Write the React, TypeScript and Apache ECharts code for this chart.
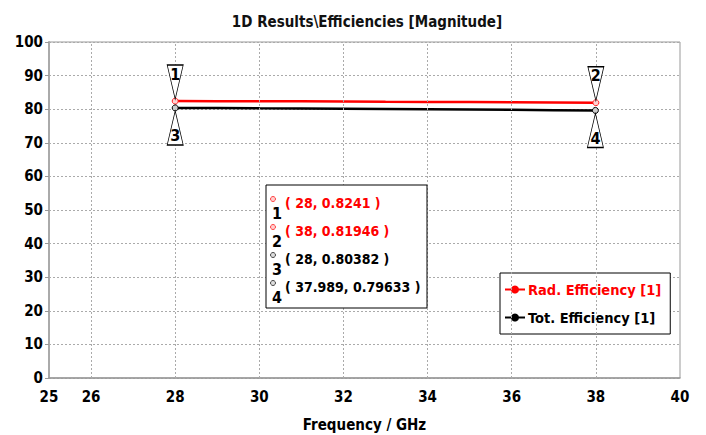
import React, { useEffect, useRef } from 'react';
import * as echarts from 'echarts';

const freqGHz = [28, 29, 30, 31, 32, 33, 34, 35, 36, 37, 38];
const radEff = [82.41, 82.39, 82.37, 82.34, 82.31, 82.22, 82.17, 82.12, 82.07, 82.01, 81.946];
const totEff = [80.382, 80.33, 80.26, 80.2, 80.13, 80.06, 79.98, 79.9, 79.82, 79.72, 79.633];

const xLabelValues = [25, 26, 28, 30, 32, 34, 36, 38, 40];
const xGridValues = [26, 28, 30, 32, 34, 36, 38];

const markerIds = ['1', '2', '3', '4'];
const markerFreq = [28, 38, 28, 37.989];
const markerEff = [0.8241, 0.81946, 0.80382, 0.79633];

const seriesNames = ['Rad. Efficiency [1]', 'Tot. Efficiency [1]'];
const seriesColors = ['#ff0000', '#000000'];

const FONT = "'DejaVu Sans Condensed', 'DejaVu Sans', sans-serif";
const TRI_DOWN = 'path://M0,0L16,0L8,34Z';
const TRI_UP = 'path://M8,0L16,34L0,34Z';

function calloutPoint(i: number, down: boolean) {
  return {
    coord: [markerFreq[i], markerEff[i] * 100],
    symbol: down ? TRI_DOWN : TRI_UP,
    symbolSize: [16, 34],
    symbolOffset: [0, down ? -19 : 20],
    itemStyle: { color: '#ffffff', borderColor: '#000000', borderWidth: 1 },
    label: {
      show: true,
      formatter: markerIds[i],
      position: 'inside',
      offset: [0, down ? -8 : 8],
      color: '#000',
      fontSize: 16,
      fontWeight: 'bold',
      fontFamily: FONT,
    },
  };
}

function dotPoint(i: number, color: string, fill: string) {
  return {
    coord: [markerFreq[i], markerEff[i] * 100],
    symbol: 'circle',
    symbolSize: 6,
    itemStyle: { color: fill, borderColor: color, borderWidth: 1 },
    label: { show: false },
  };
}

export default function App() {
  const ref = useRef<HTMLDivElement>(null);
  useEffect(() => {
    document.body.style.margin = '0';
    const chart = echarts.init(ref.current!, undefined, { renderer: 'svg' });
    const rows = markerIds.map((id, i) => ({
      id,
      text: `( ${markerFreq[i]}, ${markerEff[i]} )`,
      color: i < 2 ? seriesColors[0] : seriesColors[1],
    }));
    const boxGraphics: any[] = [
      {
        type: 'rect',
        shape: { x: 266, y: 185, width: 161, height: 123 },
        style: { fill: '#fff', stroke: '#000', lineWidth: 1 },
        z: 100,
      },
    ];
    rows.forEach((r, i) => {
      const cy = 203 + 28 * i;
      boxGraphics.push(
        {
          type: 'circle',
          shape: { cx: 273, cy: cy - 4, r: 2.5 },
          style: { fill: i < 2 ? '#ffd0d0' : '#ddd', stroke: i < 2 ? '#ff4040' : '#444', lineWidth: 1 },
          z: 101,
        },
        {
          type: 'text',
          x: 277,
          y: cy + 10,
          style: { text: r.id, fill: '#000', fontSize: 16, fontWeight: 'bold', fontFamily: FONT, align: 'center', verticalAlign: 'middle' },
          z: 101,
        },
        {
          type: 'text',
          x: 285,
          y: cy,
          style: { text: r.text, fill: r.color, fontSize: 14, fontWeight: 'bold', fontFamily: FONT, align: 'left', verticalAlign: 'middle' },
          z: 101,
        }
      );
    });

    chart.setOption({
      animation: false,
      backgroundColor: '#ffffff',
      title: {
        text: '1D Results\\Efficiencies [Magnitude]',
        left: 362,
        textAlign: 'center',
        top: 9,
        textStyle: { fontSize: 15, fontWeight: 'bold', fontFamily: FONT, color: '#111' },
      },
      grid: {
        left: 49,
        right: 26,
        top: 42,
        bottom: 57,
        show: true,
        borderColor: '#999',
        borderWidth: 1,
        outerBoundsMode: 'none',
        containLabel: false,
      },
      xAxis: {
        type: 'value',
        min: 25,
        max: 40,
        interval: 1,
        name: 'Frequency / GHz',
        nameLocation: 'middle',
        nameGap: 39,
        nameTextStyle: { fontSize: 15, fontWeight: 'bold', fontFamily: FONT, color: '#000' },
        axisLine: { lineStyle: { color: '#999', width: 1.5 } },
        axisTick: { show: false },
        splitLine: { show: false },
        axisLabel: {
          formatter: (v: number) => (xLabelValues.includes(v) ? String(v) : ''),
          fontSize: 15,
          fontWeight: 'bold',
          fontFamily: FONT,
          color: '#000',
          margin: 11,
        },
      },
      yAxis: {
        type: 'value',
        min: 0,
        max: 100,
        interval: 10,
        axisLine: { show: true, lineStyle: { color: '#aaa', width: 2 } },
        axisTick: { show: true, length: 4, lineStyle: { color: '#999' } },
        splitLine: { show: true, lineStyle: { type: [2, 2], color: '#aaa', width: 1 } },
        axisLabel: { fontSize: 15, fontWeight: 'bold', fontFamily: FONT, color: '#000', margin: 6 },
      },
      legend: {
        data: seriesNames.map((n, i) => ({ name: n, textStyle: { color: seriesColors[i] } })),
        orient: 'vertical',
        left: 500,
        top: 273,
        backgroundColor: '#fff',
        borderColor: '#000',
        borderWidth: 1,
        padding: [9, 9, 9, 4],
        itemGap: 13,
        itemWidth: 20,
        itemHeight: 10,
        textStyle: { fontSize: 14.5, fontWeight: 'bold', fontFamily: FONT, padding: [0, 0, 0, -2] },
      },
      graphic: boxGraphics,
      series: [
        {
          name: 'grid',
          type: 'line',
          data: [],
          silent: true,
          z: 1,
          markLine: {
            silent: true,
            symbol: ['none', 'none'],
            label: { show: false },
            lineStyle: { type: [2, 2], color: '#aaa', width: 1 },
            data: xGridValues.map((v) => ({ xAxis: v })),
          },
        },
        {
          name: seriesNames[0],
          type: 'line',
          data: freqGHz.map((f, i) => [f, radEff[i]]),
          symbol: 'circle',
          symbolSize: 5,
          showSymbol: false,
          color: seriesColors[0],
          lineStyle: { width: 2.5, color: seriesColors[0] },
          z: 3,
          markPoint: {
            data: [dotPoint(0, '#ff2020', '#ffd0d0'), dotPoint(1, '#ff2020', '#ffd0d0'), calloutPoint(0, true), calloutPoint(1, true)],
          },
        },
        {
          name: seriesNames[1],
          type: 'line',
          data: freqGHz.map((f, i) => [f, totEff[i]]),
          symbol: 'circle',
          symbolSize: 5,
          showSymbol: false,
          color: seriesColors[1],
          lineStyle: { width: 2.5, color: seriesColors[1] },
          z: 3,
          markPoint: {
            data: [dotPoint(2, '#000', '#ccc'), dotPoint(3, '#000', '#ccc'), calloutPoint(2, false), calloutPoint(3, false)],
          },
        },
      ],
    });
    return () => chart.dispose();
  }, []);
  return <div ref={ref} style={{ width: 706, height: 435 }} />;
}
